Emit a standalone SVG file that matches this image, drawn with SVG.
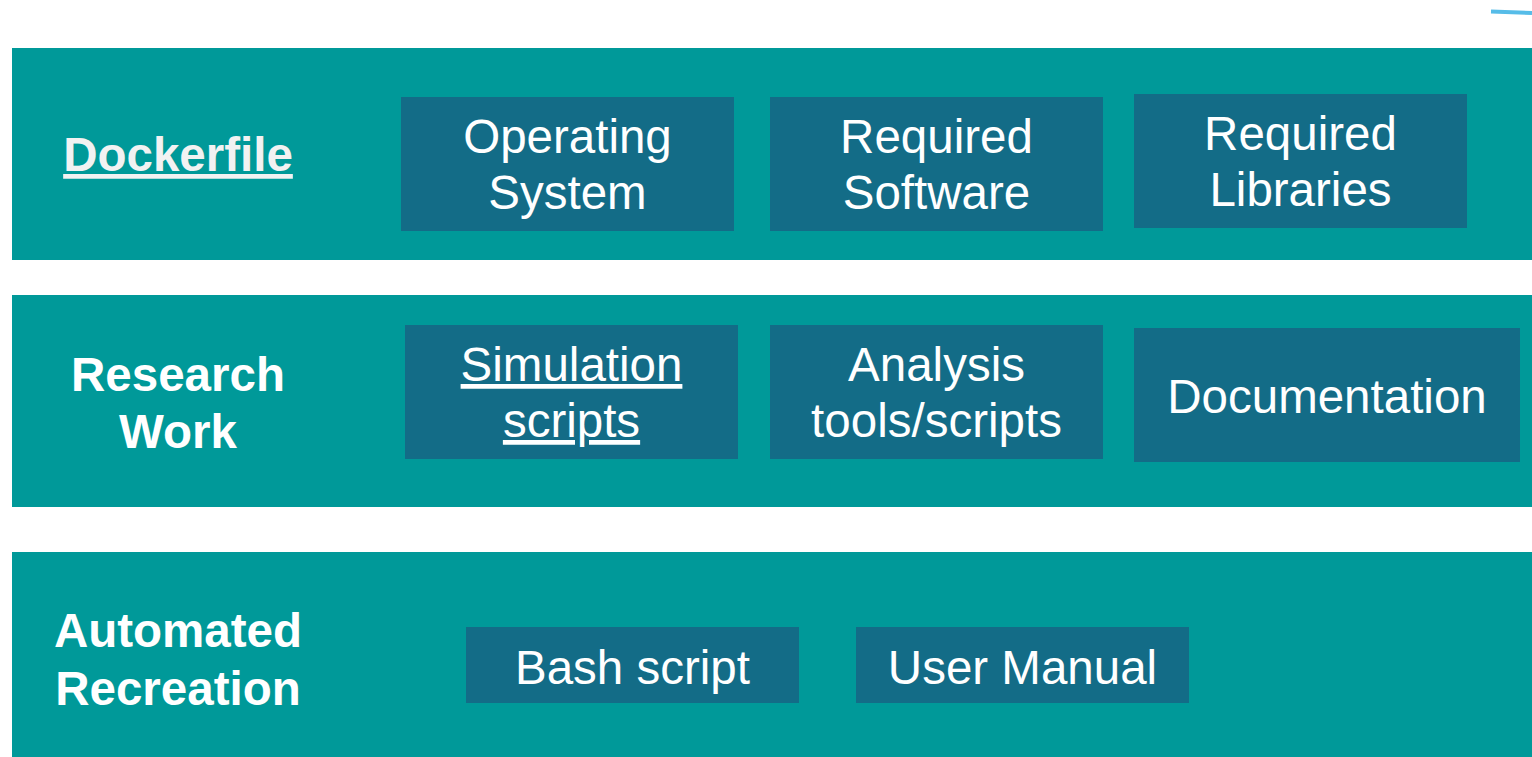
<svg xmlns="http://www.w3.org/2000/svg" width="1532" height="757" viewBox="0 0 1532 757">
<style>
.band{fill:#009999}
.box{fill:#136C87}
.t{font-family:"Liberation Sans",Arial,sans-serif;font-size:47.5px;fill:#FFFFFF;text-anchor:middle}
.h{font-family:"Liberation Sans",Arial,sans-serif;font-size:47.5px;font-weight:bold;fill:#FFFFFF;text-anchor:middle}
</style>
<rect width="1532" height="757" fill="#FFFFFF"/>
<path d="M1491,11.5 L1532,13" stroke="#56BCE8" stroke-width="4" fill="none"/>
<g id="band-dockerfile">
<rect class="band" x="12" y="48" width="1520" height="212"/>
<text class="h" x="178" y="171" style="fill:#F2F2F2" text-decoration="underline">Dockerfile</text>
</g>
<g id="band-research">
<rect class="band" x="12" y="295" width="1520" height="212"/>
<text class="h" x="178" y="391">Research</text>
<text class="h" x="178" y="448">Work</text>
</g>
<g id="band-automated">
<rect class="band" x="12" y="552" width="1520" height="205"/>
<text class="h" x="178" y="647">Automated</text>
<text class="h" x="178" y="705">Recreation</text>
</g>
<g id="os">
<rect class="box" x="401" y="97" width="333" height="134"/>
<text class="t" x="567.5" y="153">Operating</text>
<text class="t" x="567.5" y="209">System</text>
</g>
<g id="software">
<rect class="box" x="770" y="97" width="333" height="134"/>
<text class="t" x="936.5" y="153">Required</text>
<text class="t" x="936.5" y="209">Software</text>
</g>
<g id="libraries">
<rect class="box" x="1134" y="94" width="333" height="134"/>
<text class="t" x="1300.5" y="150">Required</text>
<text class="t" x="1300.5" y="206">Libraries</text>
</g>
<g id="simulation">
<rect class="box" x="405" y="325" width="333" height="134"/>
<text class="t" x="571.5" y="381" text-decoration="underline">Simulation</text>
<text class="t" x="571.5" y="437" text-decoration="underline">scripts</text>
</g>
<g id="analysis">
<rect class="box" x="770" y="325" width="333" height="134"/>
<text class="t" x="936.5" y="381">Analysis</text>
<text class="t" x="936.5" y="437">tools/scripts</text>
</g>
<g id="documentation">
<rect class="box" x="1134" y="328" width="386" height="134"/>
<text class="t" x="1327" y="413">Documentation</text>
</g>
<g id="bash">
<rect class="box" x="466" y="627" width="333" height="76"/>
<text class="t" x="632.5" y="684">Bash script</text>
</g>
<g id="manual">
<rect class="box" x="856" y="627" width="333" height="76"/>
<text class="t" x="1022.5" y="684">User Manual</text>
</g>
<g id="connectors"></g>
</svg>
